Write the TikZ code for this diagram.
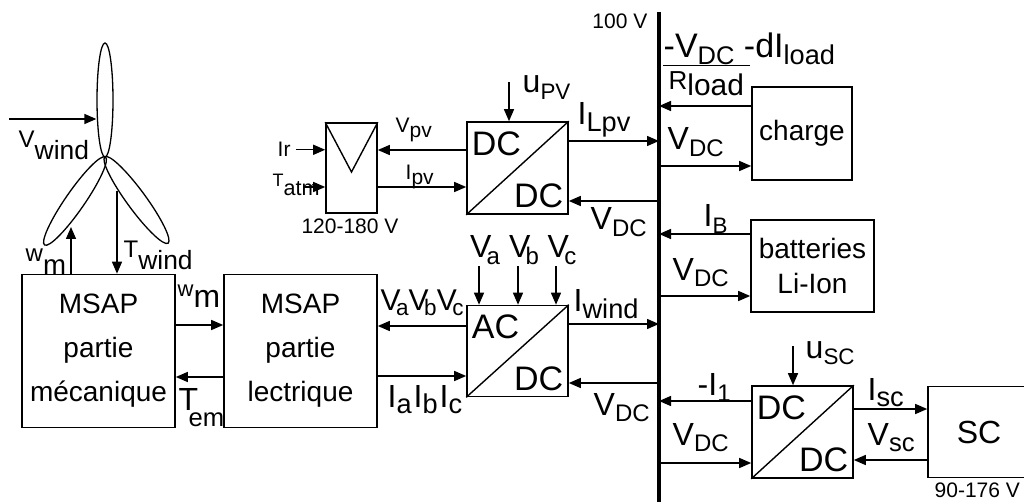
\documentclass[tikz,border=0pt]{standalone}
\usepackage{fontspec}
\setmainfont{Liberation Sans}
\usepackage{graphicx}
\usetikzlibrary{arrows.meta,shapes.geometric}

\begin{document}
\begin{tikzpicture}[x=1pt,y=-1pt,line width=1.4pt,>={Triangle[length=12pt,width=10pt]},
  blk/.style={draw,line width=1.6pt,inner sep=0pt,minimum width=153pt,minimum height=153pt,align=center,font=\fontsize{28}{44}\selectfont},
  conv/.style={draw,line width=1.6pt,inner sep=0pt,minimum width=101pt,minimum height=91pt},
  box/.style={draw,line width=1.6pt,inner sep=0pt,align=center,font=\fontsize{28}{35}\selectfont},
  lbl/.style={inner sep=0pt,font=\fontsize{32}{38}\selectfont},
  note/.style={inner sep=0pt,font=\fontsize{21}{25}\selectfont},
  blade/.style={draw,ellipse,line width=1.3pt,inner sep=0pt},
  bus/.style={line width=3.5pt}]
  \newcommand*{\Sb}[3][0.75]{#2\raisebox{-0.2em}{\scalebox{#1}{#3}}}
  \newcommand*{\Sl}[3][1]{#2\raisebox{-0.5em}{\scalebox{#1}{#3}}}
  \newcommand*{\Vt}[1]{V\kern-0.15em\raisebox{-0.2em}{\scalebox{0.75}{#1}}}
  \useasboundingbox (0,0) rectangle (1024,502);

  % DC bus
  \coordinate (bus) at (659,12);
  \coordinate (busend) at (659,502);
  \draw[bus] (bus) -- (busend);
  \node[note,anchor=base east] (busv) at (648,29) {100 V};

  % wind turbine
  \node[blade,minimum width=16pt,minimum height=114pt] (vblade) at (105,100) {};
  \node[blade,minimum width=107pt,minimum height=19pt,rotate=55.3] (lblade) at (75,201) {};
  \node[blade,minimum width=107pt,minimum height=19pt,rotate=-53.8] (rblade) at (136.5,200) {};

  % blocks
  \node[blk] (mec) at (98.5,351) {MSAP\\partie\\mécanique};
  \node[blk] (elec) at (300.5,351) {MSAP\\partie\\lectrique};
  \node[conv] (acdc) at (517.5,351) {};
  \node[conv,minimum height=92pt] (pvdc) at (517.5,168) {};
  \node[box,minimum width=51pt,minimum height=90pt] (pv) at (351.5,168) {};
  \node[box,minimum width=100pt,minimum height=93pt] (charge) at (802,133.5) {charge};
  \node[box,minimum width=123pt,minimum height=92pt] (batt) at (812.5,266) {batteries\\Li-Ion};
  \node[conv,minimum height=92pt] (scdc) at (802.5,432) {};
  \node[box,minimum width=102pt,minimum height=91pt,font=\fontsize{32}{38}\selectfont] (sc) at (979,432) {SC};
  \node[note,anchor=base] (pvv) at (350,234) {120-180 V};
  \node[note,anchor=base west] (scv) at (934,497) {90-176 V};

  % PV panel symbol
  \draw (pv.north west) -- ([yshift=-4pt]pv.center) -- (pv.north east);

  % converters
  \foreach \c/\t in {pvdc/DC,acdc/AC,scdc/DC}{
    \draw (\c.south west) -- (\c.north east);
    \node[lbl,font=\fontsize{34}{40}\selectfont,anchor=base west] (\c-in) at ([xshift=5pt,yshift=-34pt]\c.north west) {\t};
    \node[lbl,font=\fontsize{34}{40}\selectfont,anchor=base east] (\c-out) at ([xshift=-5pt,yshift=7pt]\c.south east) {DC};
  }

  % turbine signals
  \coordinate (vw) at (9,119);
  \draw[->] (vw) -- (vw -| vblade.west);
  \node[lbl,font=\fontsize{24}{28}\selectfont,anchor=base west] (vwlbl) at (18,148) {\Sl[1.1]{V}{wind}};
  \coordinate (wm) at (71,227);
  \draw[->] (wm |- mec.north) -- (wm);
  \node[lbl,font=\fontsize{24}{28}\selectfont,anchor=base west] (wmlbl) at (25,262) {\Sl[1.15]{w}{m}};
  \coordinate (tw) at (117,191);
  \draw[->] (tw) -- (tw |- mec.north);
  \node[lbl,font=\fontsize{24}{28}\selectfont,anchor=base west] (twlbl) at (123,258) {\Sl[1.1]{T}{wind}};

  % machine
  \draw[->] ([yshift=26pt]mec.east) -- ([yshift=26pt]elec.west);
  \draw[->] ([yshift=-26pt]elec.west) -- ([yshift=-26pt]mec.east);
  \node[lbl,font=\fontsize{22}{26}\selectfont,anchor=base west] (wmlbl2) at (177,297) {\Sl[1.45]{w}{m}};
  \node[lbl,anchor=base west] (temlbl) at (178,410) {\Sl[0.8]{T\kern-0.3em}{em}};
  \draw[->] ([yshift=25pt]acdc.west) -- ([yshift=25pt]elec.east);
  \draw[->] ([yshift=-25pt]elec.east) -- ([yshift=-25pt]acdc.west);
  \node[lbl,font=\fontsize{30}{36}\selectfont,anchor=base west] (vabc) at (380,310) {\Vt{a}\Vt{b}\Vt{c}};
  \node[lbl,anchor=base west] (iabc) at (387,407) {\Sb[0.85]{I}{a}\kern2pt\Sb[0.85]{I}{b}\kern2pt\Sb[0.85]{I}{c}};
  \foreach \dx/\ph in {-38.5/a,0.5/b,38.5/c}
    \draw[<-] ([xshift=\dx pt]acdc.north) -- ++(0,-39)
      node[lbl,anchor=base,xshift=6pt,yshift=8pt] (v\ph) {\Vt{\ph}};
  \draw[->] ([yshift=27pt]acdc.east) coordinate (iw) -- (iw -| bus);
  \node[lbl,anchor=base west] (iwlbl) at (573,312) {\Sb[0.85]{I}{wind}};
  \draw[<-] ([yshift=-32pt]acdc.east) coordinate (vdc1) -- (vdc1 -| bus);
  \node[lbl,anchor=base west] (vdc1lbl) at (593,415) {\Sb{V}{DC}};

  % PV
  \node[note,anchor=base west] (ir) at (277,157) {Ir};
  \draw[->] ([xshift=5pt]ir.east) -- (ir -| pv.west);
  \coordinate (ta) at (303,187);
  \draw[->] (ta) -- (ta -| pv.west);
  \node[note,font=\fontsize{18}{22}\selectfont,anchor=base west] (talbl) at (272,187) {\Sl[1.2]{T}{atm}};
  \draw[->] ([yshift=18pt]pvdc.west) -- ([yshift=18pt]pv.east);
  \node[note,anchor=base west] (vpvlbl) at (395,133) {\Sb[1]{V}{pv}};
  \draw[->] ([yshift=-19pt]pv.east) -- ([yshift=-19pt]pvdc.west);
  \node[note,anchor=base west] (ipvlbl) at (405,180) {\Sb[1]{I}{pv}};
  \draw[<-] ([xshift=-8.5pt]pvdc.north) -- ++(0,-39) coordinate (upv);
  \node[lbl,anchor=base west] (upvlbl) at (522,93) {\Sb[0.7]{u}{PV}};
  \draw[->] ([yshift=27pt]pvdc.east) coordinate (ilpv) -- (ilpv -| bus);
  \node[lbl,anchor=base west] (ilpvlbl) at (577,125) {\Sb[0.85]{I}{Lpv}};
  \draw[<-] ([yshift=-33pt]pvdc.east) coordinate (vdc2) -- (vdc2 -| bus);
  \node[lbl,anchor=base west] (vdc2lbl) at (590,230) {\Sb{V}{DC}};

  % load
  \draw[->] ([yshift=27.5pt]charge.west) coordinate (iload) -- (iload -| bus);
  \node[lbl,font=\fontsize{34}{40}\selectfont,anchor=base west] (num) at (663,58) {-\Sb{V}{DC} -d\Sb[0.8]{I}{load}};
  \draw[line width=1pt] ([yshift=-8pt]num.base west) -- ++(87,0);
  \node[lbl,font=\fontsize{26}{30}\selectfont,anchor=base west] (den) at (668,90) {\Sb[1.15]{R}{load}};
  \draw[<-] ([yshift=-32.5pt]charge.west) coordinate (vdc3) -- (vdc3 -| bus);
  \node[lbl,anchor=base west] (vdc3lbl) at (667,150) {\Sb{V}{DC}};

  % batteries
  \draw[->] ([yshift=32pt]batt.west) coordinate (ib) -- (ib -| bus);
  \node[lbl,anchor=base west] (iblbl) at (703,227) {\Sb[0.7]{I}{B}};
  \draw[<-] ([yshift=-30pt]batt.west) coordinate (vdc4) -- (vdc4 -| bus);
  \node[lbl,anchor=base west] (vdc4lbl) at (672,280) {\Sb{V}{DC}};

  % supercapacitor
  \draw[->] ([yshift=31pt]scdc.west) coordinate (i1) -- (i1 -| bus);
  \node[lbl,anchor=base west] (i1lbl) at (697,395) {\Sb{-I}{1}};
  \draw[<-] ([yshift=-31pt]scdc.west) coordinate (vdc5) -- (vdc5 -| bus);
  \node[lbl,anchor=base west] (vdc5lbl) at (672,445) {\Sb{V}{DC}};
  \draw[<-] ([xshift=-9.5pt]scdc.north) -- ++(0,-39) coordinate (usc);
  \node[lbl,anchor=base west] (usclbl) at (805,358) {\Sb[0.7]{u}{SC}};
  \draw[->] ([yshift=23pt]scdc.east) -- ([yshift=23pt]sc.west);
  \node[lbl,anchor=base west] (isclbl) at (867,400) {\Sb[0.85]{I}{sc}};
  \draw[->] ([yshift=-28pt]sc.west) -- ([yshift=-28pt]scdc.east);
  \node[lbl,anchor=base west] (vsclbl) at (867,445) {\Sb[0.8]{V}{sc}};
\end{tikzpicture}
\end{document}
